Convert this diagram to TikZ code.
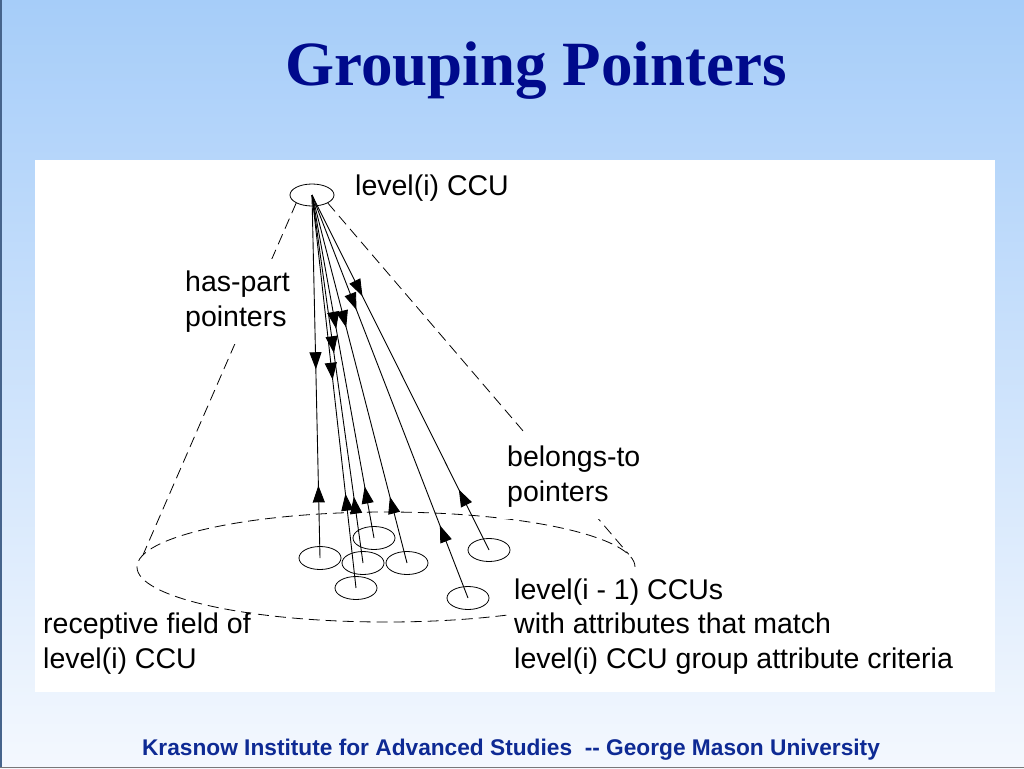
\documentclass[tikz,border=0pt]{standalone}
\usepackage{fontspec}
\setmainfont{Liberation Sans}
\newfontfamily\titlefont{Liberation Serif}
\usetikzlibrary{arrows.meta,decorations.markings,shapes.geometric}
\definecolor{bgtop}{RGB}{166,205,249}
\definecolor{bgbot}{RGB}{244,248,254}
\definecolor{titleblue}{RGB}{0,10,140}
\definecolor{footblue}{RGB}{14,42,148}
\tikzset{
  ccu/.style={draw, ellipse, line width=0.8pt, minimum width=42pt, minimum height=23pt, inner sep=0pt},
  cone/.style={line width=0.8pt, dash pattern=on 11pt off 6pt},
  ptr/.style 2 args={line width=0.9pt, postaction={decorate}, decoration={markings,
      mark=at position #1 with {\arrow{Triangle[length=17pt,width=12pt]}},
      mark=at position #2 with {\arrowreversed{Triangle[length=17pt,width=12pt]}}}},
  lbl/.style={font=\fontsize{28.5}{34.3}\selectfont, align=left, anchor=base west,
      fill=white, inner xsep=5pt, inner ysep=12pt}
}
\begin{document}
\begin{tikzpicture}[x=1pt,y=-1pt]
\shade[top color=bgtop, bottom color=bgbot] (0,0) rectangle (1024,768);
\useasboundingbox (0,0) rectangle (1024,768);
\draw[line width=1.5pt, color={rgb,255:red,70;green,100;blue,140}] (0.75,0) -- (0.75,768);
\draw[line width=1.5pt, color={rgb,255:red,120;green,120;blue,120}] (0,767.25) -- (1024,767.25);
\fill[white] (35,160) rectangle (995,692);

\node[font=\titlefont\bfseries\fontsize{63}{70}\selectfont, text=titleblue, anchor=base, inner sep=0pt] (title) at (536,85) {Grouping Pointers};
\node[font=\bfseries\fontsize{22.7}{26}\selectfont, text=footblue, anchor=base, inner sep=0pt] (foot) at (511,755) {Krasnow Institute for Advanced Studies\ \ -{}- George Mason University};

% receptive field and cone
\node[draw, ellipse, line width=0.8pt, dash pattern=on 11pt off 6pt, minimum width=498pt, minimum height=110pt, inner sep=0pt] (field) at (386,567) {};
\node[ccu, minimum width=44pt, minimum height=22pt] (top) at (312,195) {};
\draw[cone] (top.south west) -- (field.177);
\draw[cone] (top.south east) -- (field.3);

% lower level CCUs
\node[ccu] (c1) at (320,558) {};
\node[ccu] (c2) at (374,538) {};
\node[ccu] (c3) at (363,563) {};
\node[ccu] (c4) at (407,563) {};
\node[ccu] (c5) at (356,588) {};
\node[ccu] (c6) at (489,550) {};
\node[ccu] (c7) at (468,598) {};

% pointers
\draw[ptr={0.48}{0.80}] (top.center) -- (c1.center);
\draw[ptr={0.47}{0.76}] (top.center) -- (c5.center);
\draw[ptr={0.43}{0.82}] (top.center) -- (c3.center);
\draw[ptr={0.39}{0.85}] (top.center) -- (c2.center);
\draw[ptr={0.36}{0.82}] (top.center) -- (c4.center);
\draw[ptr={0.285}{0.82}] (top.center) -- (c7.center);
\draw[ptr={0.285}{0.83}] (top.center) -- (c6.center);

% labels (base anchor = baseline of the last line); white boxes hide the dashed lines behind them
\node[lbl] (lvl) at (350,195) {level(i) CCU};
\node[lbl] (haspart) at (180,326) {has-part\\pointers};
\node[lbl] (belongs) at (502,501) {belongs-to\\pointers};
\node[lbl] (lower) at (509,668) {level(i - 1) CCUs\\with attributes that match\\level(i) CCU group attribute criteria};
\node[lbl, inner ysep=0pt] (recept) at (38,668) {receptive field of\\level(i) CCU};
\end{tikzpicture}
\end{document}
